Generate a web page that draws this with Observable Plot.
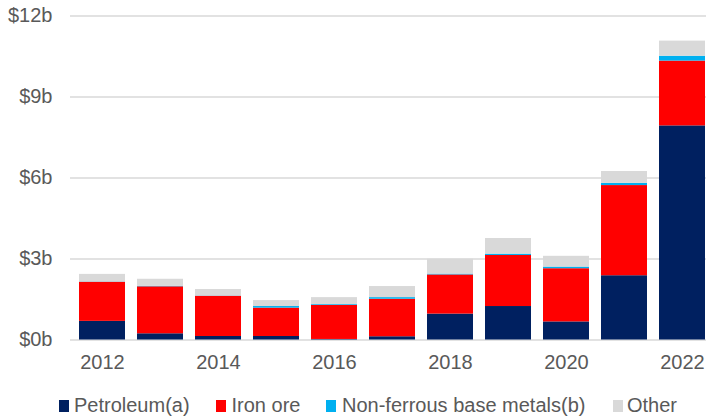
<!DOCTYPE html>
<html>
<head>
<meta charset="utf-8">
<script src="https://cdn.jsdelivr.net/npm/d3@7"></script>
<script src="https://cdn.jsdelivr.net/npm/@observablehq/plot@0.6"></script>
<style>
  html, body { margin: 0; padding: 0; background: #fff; }
  #wrap { position: relative; width: 706px; height: 417px; overflow: hidden; font-family: "Liberation Sans", Arial, sans-serif; }
  #chart { position: absolute; left: 0; top: 0; }
  .leg { position: absolute; top: 393px; font-size: 20px; color: #595959; white-space: nowrap; line-height: 24px; }
  .sw { position: absolute; width: 10px; height: 12px; top: 400px; }
</style>
</head>
<body>
<div id="wrap"><div id="chart"></div></div>
<script>
const years = [2012, 2013, 2014, 2015, 2016, 2017, 2018, 2019, 2020, 2021, 2022];
const seriesNames = ["Petroleum(a)", "Iron ore", "Non-ferrous base metals(b)", "Other"];
const seriesColors = ["#002060", "#FF0000", "#00B0F0", "#D9D9D9"];
const petroleum = [0.69, 0.23, 0.13, 0.13, 0.02, 0.12, 0.96, 1.24, 0.67, 2.38, 7.93];
const ironOre   = [1.45, 1.74, 1.49, 1.05, 1.26, 1.39, 1.45, 1.89, 1.97, 3.34, 2.40];
const nonFerrous= [0.01, 0.02, 0.01, 0.06, 0.03, 0.06, 0.03, 0.05, 0.06, 0.08, 0.18];
const other     = [0.28, 0.26, 0.24, 0.22, 0.26, 0.41, 0.55, 0.58, 0.40, 0.44, 0.56];
const yTicks = [0, 3, 6, 9, 12];
const xTicks = [2012, 2014, 2016, 2018, 2020, 2022];

const seriesValues = [petroleum, ironOre, nonFerrous, other];
const data = [];
years.forEach((yr, i) => {
  seriesNames.forEach((s, j) => data.push({year: yr, type: s, value: seriesValues[j][i]}));
});

const chart = Plot.plot({
  width: 706,
  height: 385,
  marginLeft: 70,
  marginRight: 0,
  marginTop: 15.5,
  marginBottom: 45.5,
  style: {fontFamily: '"Liberation Sans", Arial, sans-serif', fontSize: "20px", color: "#595959", background: "white"},
  x: {type: "band", domain: years, range: [70.3, 712.7], paddingInner: 0.21, paddingOuter: 0.105, align: 0.5, label: null},
  y: {domain: [0, 12], label: null},
  color: {domain: seriesNames, range: seriesColors},
  marks: [
    Plot.gridY(yTicks, {stroke: "#d9d9d9", strokeOpacity: 1, strokeWidth: 1.5}),
    Plot.barY(data, {x: "year", y: "value", fill: "type"}),
    Plot.axisX({ticks: xTicks, tickSize: 0, tickPadding: 15, tickFormat: d => String(d), fill: "#595959"}),
    Plot.axisY({ticks: yTicks, tickSize: 0, tickPadding: 18, tickFormat: d => "$" + d + "b", fill: "#595959"})
  ]
});
document.getElementById("chart").appendChild(chart);

const wrap = document.getElementById("wrap");
const legPos = [[59, 74], [216, 231.5], [326, 342], [613, 627]];
seriesNames.forEach((s, i) => {
  const sw = document.createElement("div");
  sw.className = "sw";
  sw.style.left = legPos[i][0] + "px";
  sw.style.background = seriesColors[i];
  wrap.appendChild(sw);
  const t = document.createElement("div");
  t.className = "leg";
  t.style.left = legPos[i][1] + "px";
  t.textContent = s;
  wrap.appendChild(t);
});
</script>
</body>
</html>
